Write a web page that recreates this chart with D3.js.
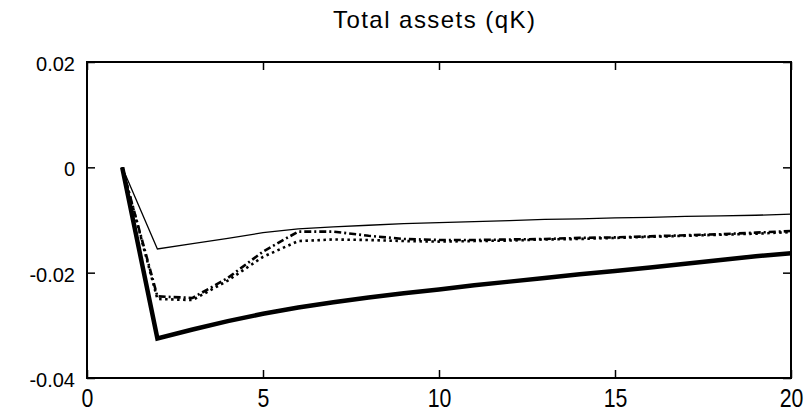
<!DOCTYPE html>
<html>
<head>
<meta charset="utf-8">
<script src="https://cdn.jsdelivr.net/npm/d3@7"></script>
<style>
  html, body { margin: 0; padding: 0; background: #fff; }
  svg { display: block; }
  text { font-family: "Liberation Sans", Arial, sans-serif; fill: #000; }
</style>
</head>
<body>
<svg id="chart" width="804" height="415"></svg>
<script>
const title = "Total assets (qK)";
const periods = d3.range(1, 21);
const xTicks = [0, 5, 10, 15, 20];
const yTicks = [-0.04, -0.02, 0, 0.02];
const yTickLabels = ["-0.04", "-0.02", "0", "0.02"];

const thinSeries = [0, -0.0155, -0.0145, -0.0135, -0.0124, -0.0117, -0.0113, -0.0110, -0.0107, -0.0105,
  -0.0103, -0.0101, -0.0099, -0.0098, -0.0096, -0.0095, -0.0093, -0.0092, -0.0091, -0.0089];
const thickSeries = [0, -0.0325, -0.0308, -0.0292, -0.0278, -0.0266, -0.0256, -0.0247, -0.0239, -0.0232,
  -0.0224, -0.0217, -0.0210, -0.0203, -0.0197, -0.0190, -0.0183, -0.0176, -0.0169, -0.0163];
const dashDotSeries = [0, -0.0245, -0.0248, -0.0210, -0.0160, -0.0122, -0.0122, -0.0130, -0.0136, -0.0138,
  -0.0138, -0.0137, -0.0136, -0.0134, -0.0133, -0.0131, -0.0129, -0.0127, -0.0124, -0.0121];
const dottedSeries = [0, -0.0250, -0.0252, -0.0215, -0.0170, -0.0140, -0.0137, -0.0138, -0.0140, -0.0141,
  -0.0140, -0.0139, -0.0137, -0.0136, -0.0134, -0.0132, -0.0130, -0.0128, -0.0126, -0.0123];

const svg = d3.select("#chart");
const mLeft = 87, mRight = 791, mTop = 62, mBottom = 378;

const x = d3.scaleLinear().domain([0, 20]).range([mLeft, mRight]);
const y = d3.scaleLinear().domain([-0.04, 0.02]).range([mBottom, mTop]);

const tickLen = 8;

const gB = svg.append("g").attr("transform", `translate(0,${mBottom})`)
  .call(d3.axisBottom(x).tickValues(xTicks).tickSizeInner(-tickLen).tickSizeOuter(0).tickPadding(11).tickFormat(d3.format("d")));
const gT = svg.append("g").attr("transform", `translate(0,${mTop})`)
  .call(d3.axisTop(x).tickValues(xTicks).tickSizeInner(-tickLen).tickSizeOuter(0).tickFormat(""));
const gL = svg.append("g").attr("transform", `translate(${mLeft},0)`)
  .call(d3.axisLeft(y).tickValues(yTicks).tickSizeInner(-tickLen).tickSizeOuter(0).tickPadding(12)
    .tickFormat((d, i) => yTickLabels[i]));
const gR = svg.append("g").attr("transform", `translate(${mRight},0)`)
  .call(d3.axisRight(y).tickValues(yTicks).tickSizeInner(-tickLen).tickSizeOuter(0).tickFormat(""));

[gB, gT, gL, gR].forEach(g => {
  g.select(".domain").remove();
  g.selectAll(".tick line").attr("stroke", "#000").attr("stroke-width", 1.5);
  g.selectAll("text").attr("fill", "#000").attr("font-family", '"Liberation Sans", Arial, sans-serif');
});
gL.selectAll("text").attr("font-size", 20).attr("dy", "0.42em");
gB.selectAll("text").attr("font-size", 26).attr("transform", "scale(0.82,1)");

svg.append("rect").attr("x", mLeft).attr("y", mTop)
  .attr("width", mRight - mLeft).attr("height", mBottom - mTop)
  .attr("fill", "none").attr("stroke", "#000").attr("stroke-width", 2);

svg.append("text").attr("x", 434).attr("y", 28)
  .attr("text-anchor", "middle").attr("font-size", 24)
  .attr("textLength", 202).attr("lengthAdjust", "spacing").text(title);

const line = d3.line().x((d, i) => x(periods[i])).y(d => y(d));

const g = svg.append("g");
g.append("path").datum(thinSeries).attr("d", line)
  .attr("fill", "none").attr("stroke", "#000").attr("stroke-width", 1.3);
g.append("path").datum(dottedSeries).attr("d", line)
  .attr("fill", "none").attr("stroke", "#000").attr("stroke-width", 2.6).attr("stroke-dasharray", "2.5,3.5");
g.append("path").datum(dashDotSeries).attr("d", line)
  .attr("fill", "none").attr("stroke", "#000").attr("stroke-width", 2.6).attr("stroke-dasharray", "7,3,2,3");
g.append("path").datum(thickSeries).attr("d", line)
  .attr("fill", "none").attr("stroke", "#000").attr("stroke-width", 4.5).attr("stroke-linejoin", "miter");
</script>
</body>
</html>
